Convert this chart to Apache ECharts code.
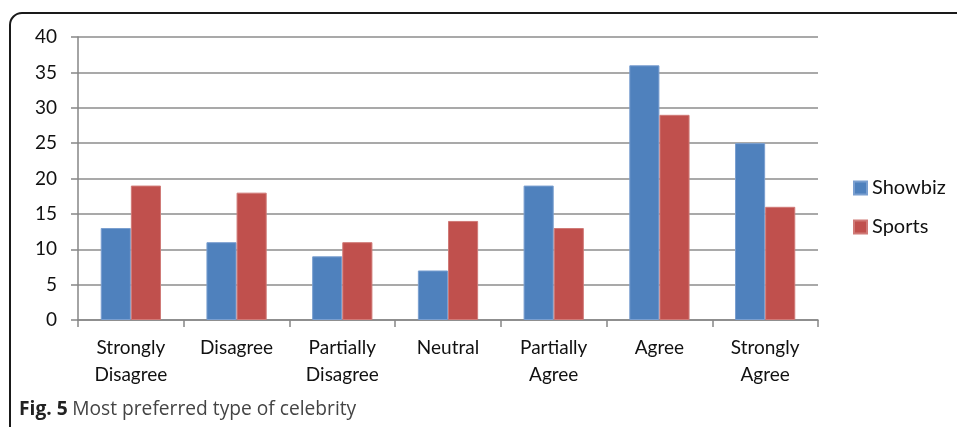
<!DOCTYPE html>
<html>
<head>
<meta charset="utf-8">
<script src="https://cdn.jsdelivr.net/npm/echarts@6/dist/echarts.min.js"></script>
<style>
  html, body { margin: 0; padding: 0; background: #fff; }
  #chart { width: 957px; height: 427px; }
</style>
</head>
<body>
<div id="chart"></div>
<script>
// Survey responses: preferred type of celebrity
const categories = [
  'Strongly\nDisagree', 'Disagree', 'Partially\nDisagree', 'Neutral',
  'Partially\nAgree', 'Agree', 'Strongly\nAgree'
];
const showbiz = [13, 11, 9, 7, 19, 36, 25];
const sports = [19, 18, 11, 14, 13, 29, 16];
const yTicks = [0, 5, 10, 15, 20, 25, 30, 35, 40];

const font = 'Lato, "Open Sans", sans-serif';
const chart = echarts.init(document.getElementById('chart'), null, { renderer: 'canvas' });

chart.setOption({
  animation: false,
  textStyle: { fontFamily: font },
  graphic: [{
    type: 'rect',
    z: 0,
    shape: { x: 10, y: 13, width: 1000, height: 500, r: 12 },
    style: { fill: 'none', stroke: '#1a1a1a', lineWidth: 2 }
  }],
  title: {
    left: 14, top: 395,
    text: '{b|Fig. 5} {n|Most preferred type of celebrity}',
    textStyle: {
      fontWeight: 'normal',
      rich: {
        b: { fontFamily: '"Open Sans", sans-serif', fontWeight: 'bold', fontSize: 19.2, color: '#222' },
        n: { fontFamily: '"Open Sans", sans-serif', fontWeight: 'normal', fontSize: 19.2, color: '#444' }
      }
    }
  },
  legend: {
    orient: 'vertical',
    left: 848, top: 173,
    itemWidth: 13, itemHeight: 13, itemGap: 19,
    icon: 'rect',
    textStyle: { fontFamily: font, fontSize: 20, color: '#111' },
    data: ['Showbiz', 'Sports']
  },
  grid: { left: 78, top: 37, right: 139, bottom: 107, containLabel: false },
  xAxis: {
    type: 'category',
    data: categories,
    axisLine: { lineStyle: { color: '#868686', width: 1.5 } },
    axisTick: { show: true, length: 7, alignWithLabel: false, lineStyle: { color: '#868686', width: 1.5 } },
    axisLabel: { margin: 14, fontFamily: font, fontSize: 19, color: '#111', lineHeight: 27, interval: 0 }
  },
  yAxis: {
    type: 'value',
    min: yTicks[0], max: yTicks[yTicks.length - 1], interval: 5,
    axisLine: { show: true, lineStyle: { color: '#868686', width: 1.5 } },
    axisTick: { show: true, length: 7, lineStyle: { color: '#868686', width: 1.5 } },
    splitLine: { lineStyle: { color: '#8c8c8c', width: 1.5 } },
    axisLabel: { margin: 21, fontFamily: font, fontSize: 19, color: '#111' }
  },
  series: [
    {
      name: 'Showbiz', type: 'bar', data: showbiz,
      barGap: '0%', barCategoryGap: '43%',
      itemStyle: { color: '#4F81BD', borderColor: '#7a9fd0', borderWidth: 1 }
    },
    {
      name: 'Sports', type: 'bar', data: sports,
      itemStyle: { color: '#C0504D', borderColor: '#d07a77', borderWidth: 1 }
    }
  ]
});
</script>
</body>
</html>
